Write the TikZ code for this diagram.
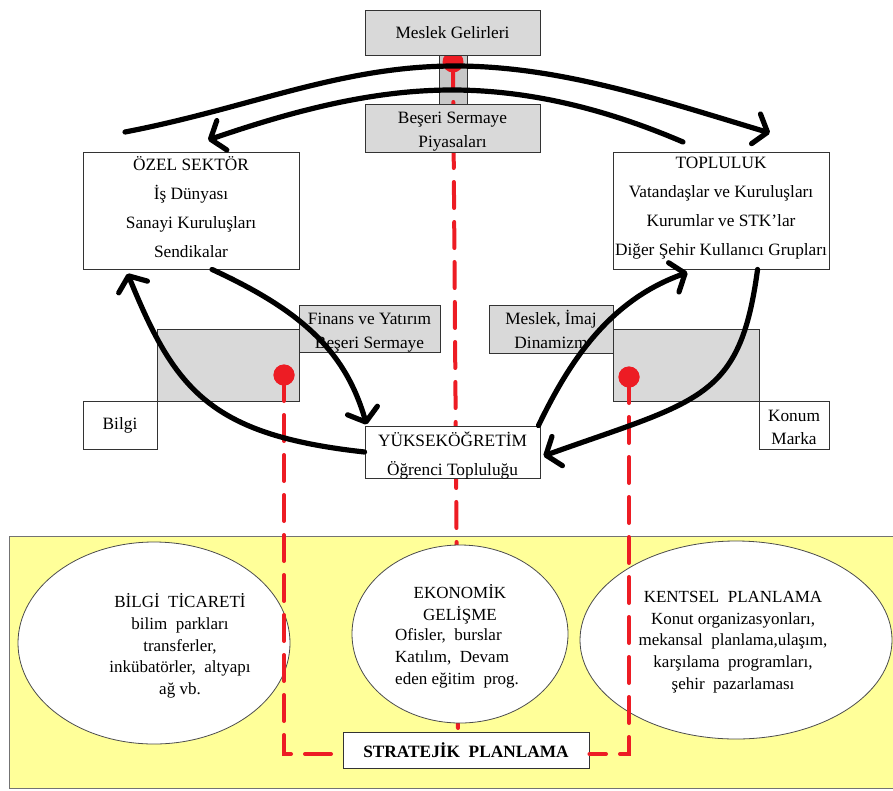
\documentclass[tikz,border=0pt]{standalone}
\usepackage{fontspec}
\setmainfont{Liberation Serif}
\usetikzlibrary{arrows.meta,shapes.geometric,calc}

\definecolor{boxgray}{RGB}{217,217,217}
\definecolor{linkgray}{RGB}{200,200,200}
\definecolor{padyellow}{RGB}{255,255,153}
\definecolor{markred}{RGB}{237,28,36}

\tikzset{
  box/.style={draw=black!80, line width=0.9pt, fill=white, inner sep=0pt, align=center,
              font=\fontsize{17.3}{29}\selectfont},
  graybox/.style={box, fill=boxgray},
  twoline/.style={font=\fontsize{17.3}{24}\selectfont},
  boxtext/.style={inner sep=0pt, align=center, font=\fontsize{17.3}{24}\selectfont},
  oval/.style={ellipse, draw=black!70, line width=0.8pt, fill=white, inner sep=0pt},
  ovaltext/.style={inner sep=0pt, align=center, font=\fontsize{17}{21.7}\selectfont},
  flow/.style={line width=5.2pt, line cap=round, draw=black,
               -{Straight Barb[length=12pt,width=31pt,round]}},
  redlink/.style={draw=markred, line width=4pt, line cap=round,
                  dash pattern=on 26pt off 14pt},
  reddot/.style={circle, fill=markred, minimum size=21pt, inner sep=0pt},
}

\begin{document}
\begin{tikzpicture}[x=1pt,y=-1pt]
\useasboundingbox (0,0) rectangle (893,790);
\clip (0,0) rectangle (893,790);

% planning area
\fill[padyellow] (9,536) rectangle (910,788);
\draw[black!55, line width=0.9pt] (910,536) -- (9,536) -- (9,788) -- (910,788);

% central link between income and labour market
\node[draw=black!80, line width=0.9pt, fill=linkgray, minimum width=28pt, minimum height=49pt, inner sep=0pt]
  (link) at (453,79.5) {};
\node[reddot] (ct) at (453,62) {};
\coordinate (stratref) at (458,732);
\draw[redlink] (ct.center) -- (stratref);

% top boxes
\node[graybox, minimum width=175pt, minimum height=45pt] (meslek) at (452.5,32.5) {Meslek Gelirleri};
\node[graybox, minimum width=175pt, minimum height=48pt] (beseri) at (452.5,128) {};
\node[boxtext, yshift=-3.5pt] (beseritxt) at (beseri.center) {Beşeri Sermaye\\Piyasaları};

% side actors
\node[box, minimum width=216pt, minimum height=117pt, text depth=8pt] (ozel) at (191,210.5)
  {ÖZEL SEKTÖR\\İş Dünyası\\Sanayi Kuruluşları\\Sendikalar};
\node[box, minimum width=216pt, minimum height=117pt, text depth=8pt] (topl) at (721,210.5)
  {TOPLULUK\\Vatandaşlar ve Kuruluşları\\Kurumlar ve STK'lar\\Diğer Şehir Kullanıcı Grupları};

% left exchange block
\node[graybox, minimum width=142pt, minimum height=72pt] (gleft) at (228,365) {};
\node[graybox, minimum width=141pt, minimum height=47pt] (finans) at (369.5,328.5) {};
\node[boxtext, yshift=-4pt] (finanstxt) at (finans.center) {Finans ve Yatırım\\Beşeri Sermaye};
\node[box, minimum width=74pt, minimum height=48pt] (bilgi) at (120,425) {Bilgi};

% right exchange block
\node[graybox, minimum width=146pt, minimum height=72pt] (gright) at (686,365) {};
\node[graybox, twoline, minimum width=124pt, minimum height=48pt]
  (imaj) at (551,329) {Meslek, İmaj\\Dinamizm};
\node[box, minimum width=70pt, minimum height=48pt] (konum) at (794,425) {};
\node[boxtext, yshift=-2pt, font=\fontsize{17.3}{23}\selectfont] (konumtxt) at (konum.center) {Konum\\Marka};

% higher education
\node[box, minimum width=175pt, minimum height=52pt] (yuk) at (452.5,452) {};
\node[boxtext, yshift=-3.5pt, font=\fontsize{17.3}{29}\selectfont] (yuktxt) at (yuk.center)
  {YÜKSEKÖĞRETİM\\Öğrenci Topluluğu};

% planning fields
\node[oval, minimum width=272pt, minimum height=202pt] (e1) at (154,643) {};
\node[oval, minimum width=216pt, minimum height=178pt] (e2) at (460,634) {};
\node[oval, minimum width=312pt, minimum height=198pt] (e3) at (736,640) {};

\node[ovaltext] (t1) at (180,646)
  {BİLGİ\ \ TİCARETİ\\bilim\ \ parkları\\transferler,\\inkübatörler,\ \ altyapı\\ağ vb.};
\node[ovaltext] (t2a) at (460,604) {EKONOMİK\\GELİŞME};
\node[ovaltext, align=left, anchor=west] (t2b) at (395,658.5)
  {Ofisler,\ \ burslar\\Katılım,\ \ Devam\\eden eğitim\ \ prog.};
\node[ovaltext] (t3) at (733,642)
  {KENTSEL\ \ PLANLAMA\\Konut organizasyonları,\\mekansal\ \ planlama,ulaşım,\\karşılama\ \ programları,\\şehir\ \ pazarlaması};

\node[box, minimum width=246pt, minimum height=36pt, font=\fontsize{17.3}{20}\selectfont\bfseries]
  (strat) at (466,750) {STRATEJİK\ \ PLANLAMA};

% red links to strategic planning
\node[reddot] (cl) at (284,375) {};
\node[reddot] (cr) at (629,377) {};
\draw[redlink] (cl.center) |- ($(strat.west)+(0,4)$);
\draw[redlink] (cr.center) |- ($(strat.east)+(0,4)$);
\node[reddot] at (cl) {};
\node[reddot] at (cr) {};

% flows between actors
\coordinate (a1s) at (125,132);
\coordinate (a1m) at (455,66);
\coordinate (a1e) at (770,133);
\draw[flow] (a1s) .. controls (250,108) and (340,66) .. (a1m)
            .. controls (560,66) and (660,100) .. (a1e);

\coordinate (a2s) at (683,142);
\coordinate (a2m) at (452,90);
\coordinate (a2e) at (208,140);
\draw[flow] (a2s) .. controls (620,115) and (540,90) .. (a2m)
            .. controls (370,90) and (290,112) .. (a2e);

\draw[flow] ($(ozel.south west)!0.597!(ozel.south east)$)
  .. controls (300,310) and (345,350) .. ($(yuk.north west)+(2,-1)$);
\draw[flow] (yuk.west)
  .. controls (210,435) and (175,390) .. ($(ozel.south west)+(45,4)$);
\draw[flow] ($(yuk.north east)+(-2,0)$)
  .. controls (570,360) and (610,300) .. ($(topl.south west)+(75,3)$);
\draw[flow] ($(topl.south west)+(145,0)$)
  .. controls (740,400) and (700,400) .. ($(yuk.east)+(3,4)$);

\end{tikzpicture}
\end{document}
